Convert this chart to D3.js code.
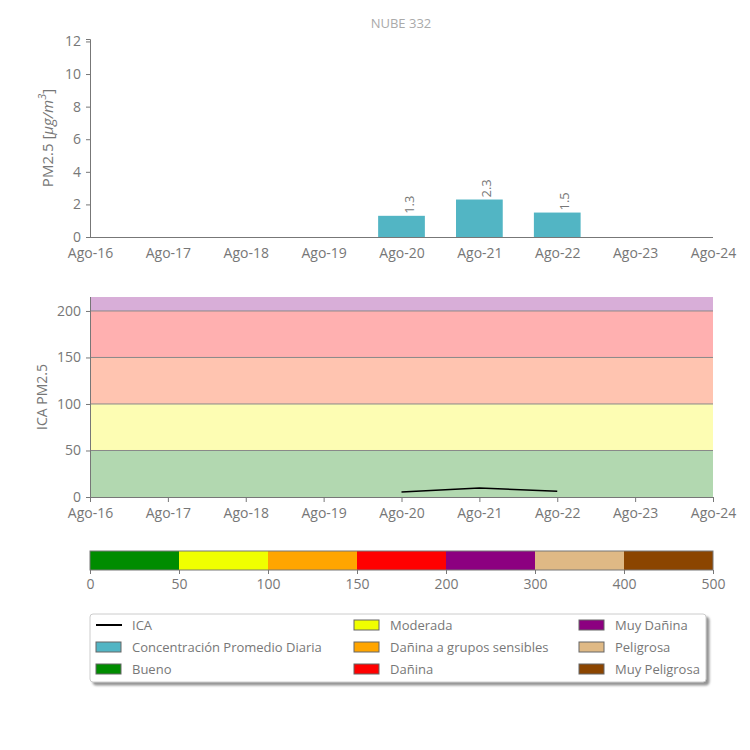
<!DOCTYPE html>
<html>
<head>
<meta charset="utf-8">
<script src="https://cdn.jsdelivr.net/npm/d3@7"></script>
<style>
  body { margin: 0; background: #fff; }
  text { font-family: "Open Sans", Lato, sans-serif; fill: #777; }
</style>
</head>
<body>
<div id="chart"></div>
<script>
// Data
var days = ["Ago-16", "Ago-17", "Ago-18", "Ago-19", "Ago-20", "Ago-21", "Ago-22", "Ago-23", "Ago-24"];
var measuredDays = ["Ago-20", "Ago-21", "Ago-22"];
var pm25 = [1.3, 2.3, 1.5];      // concentracion promedio diaria
var ica = [5.4, 9.6, 6.3];       // indice ICA
var pmTicks = [0, 2, 4, 6, 8, 10, 12];
var icaTicks = [0, 50, 100, 150, 200];

// ICA categories
var catLimits = [0, 50, 100, 150, 200, 300, 400, 500];
var catNames = ["Bueno", "Moderada", "Dañina a grupos sensibles", "Dañina", "Muy Dañina", "Peligrosa", "Muy Peligrosa"];
var catColors = ["#008c00", "#f0ff00", "#ffa500", "#ff0000", "#8c0080", "#dfb985", "#8b4500"];
var bandColors = ["#b2d8b0", "#fdfdb3", "#ffc4b0", "#ffb0b0", "#d8aed8", "#ecdcc6", "#d0b8a4"];

var barColor = "#52b5c4";
var axisColor = "#777";

var svg = d3.select("#chart")
  .append("svg")
  .attr("width", 750)
  .attr("height", 750);

var x = d3.scalePoint()
  .domain(days)
  .range([90, 713]);
var step = x.step();

// ---------- top chart: PM2.5 bars ----------
var y1 = d3.scaleLinear()
  .domain([0, 12.15])
  .range([237, 39]);

svg.append("text")
  .attr("x", 401)
  .attr("y", 28)
  .style("text-anchor", "middle")
  .style("font-size", "13px")
  .style("fill", "#aaa")
  .text("NUBE 332");

svg.append("g")
  .selectAll("rect")
  .data(pm25)
  .enter()
  .append("rect")
    .attr("x", function(d, i) { return x(measuredDays[i]) - step * 0.3; })
    .attr("width", step * 0.6)
    .attr("y", function(d) { return y1(d); })
    .attr("height", function(d) { return y1(0) - y1(d); })
    .attr("fill", barColor);

svg.append("g")
  .selectAll("text")
  .data(pm25)
  .enter()
  .append("text")
    .attr("transform", function(d, i) {
      return "translate(" + (x(measuredDays[i]) + 12) + "," + (y1(d) - 2) + ") rotate(-90)";
    })
    .style("font-size", "13px")
    .text(function(d) { return d.toFixed(1); });

var yAxis1 = svg.append("g")
  .attr("transform", "translate(90,0)")
  .call(d3.axisLeft(y1).tickValues(pmTicks).tickSize(4).tickPadding(5));

var xAxis1 = svg.append("g")
  .attr("transform", "translate(0,237)")
  .call(d3.axisBottom(x).tickSize(0).tickPadding(11));

// y label with superscript
var ylab1 = svg.append("text")
  .attr("transform", "translate(53,138) rotate(-90)")
  .style("text-anchor", "middle")
  .style("font-size", "15px");
ylab1.append("tspan").text("PM2.5 [");
ylab1.append("tspan").style("font-style", "italic").text("μg/m");
ylab1.append("tspan").attr("dy", -7).style("font-size", "11px").style("font-style", "italic").text("3");
ylab1.append("tspan").attr("dy", 7).text("]");

// ---------- bottom chart: ICA ----------
var y2 = d3.scaleLinear()
  .domain([0, 215])
  .range([497, 297]);

svg.append("g")
  .selectAll("rect")
  .data(catLimits.slice(0, 5))
  .enter()
  .append("rect")
    .attr("x", 90)
    .attr("width", 713 - 90)
    .attr("y", function(d, i) { return y2(Math.min(catLimits[i + 1], 215)); })
    .attr("height", function(d, i) { return y2(d) - y2(Math.min(catLimits[i + 1], 215)); })
    .attr("fill", function(d, i) { return bandColors[i]; });

svg.append("g")
  .selectAll("line")
  .data(icaTicks.slice(1))
  .enter()
  .append("line")
    .attr("x1", 90)
    .attr("x2", 713)
    .attr("y1", function(d) { return y2(d); })
    .attr("y2", function(d) { return y2(d); })
    .attr("stroke", "#888")
    .attr("stroke-width", 1);

var icaPoints = ica.map(function(v, i) { return {day: measuredDays[i], v: v}; });

svg.append("path")
  .datum(icaPoints)
  .attr("d", d3.line()
    .x(function(d) { return x(d.day); })
    .y(function(d) { return y2(d.v); }))
  .attr("stroke", "#000")
  .style("stroke-width", 1.5)
  .style("fill", "none");

var yAxis2 = svg.append("g")
  .attr("transform", "translate(90,0)")
  .call(d3.axisLeft(y2).tickValues(icaTicks).tickSize(4).tickPadding(5));

var xAxis2 = svg.append("g")
  .attr("transform", "translate(0,497)")
  .call(d3.axisBottom(x).tickSize(5).tickPadding(6));

svg.append("text")
  .attr("transform", "translate(47,397) rotate(-90)")
  .style("text-anchor", "middle")
  .style("font-size", "14px")
  .text("ICA PM2.5");

[yAxis1, xAxis1, yAxis2, xAxis2].forEach(function(a) {
  a.selectAll("path, line").attr("stroke", axisColor);
  a.selectAll("text").style("font-size", "14px").attr("fill", axisColor);
});
xAxis1.select(".domain").attr("d", "M90,0.5H713");
yAxis2.select(".domain").attr("d", "M0.5,497V297");
xAxis2.select(".domain").attr("d", "M90,0.5H713");

// ---------- colour bar ----------
var xc = d3.scalePoint()
  .domain(catLimits)
  .range([90, 713]);

svg.append("g")
  .selectAll("rect")
  .data(catColors)
  .enter()
  .append("rect")
    .attr("x", function(d, i) { return xc(catLimits[i]); })
    .attr("width", function(d, i) { return xc(catLimits[i + 1]) - xc(catLimits[i]); })
    .attr("y", 551)
    .attr("height", 19)
    .attr("fill", function(d) { return d; });

svg.append("rect")
  .attr("x", 90)
  .attr("y", 551)
  .attr("width", 713 - 90)
  .attr("height", 19)
  .attr("fill", "none")
  .attr("stroke", axisColor);

var cAxis = svg.append("g")
  .attr("transform", "translate(0,570)")
  .call(d3.axisBottom(xc).tickSize(4).tickPadding(5));
cAxis.select(".domain").remove();
cAxis.selectAll("line").attr("stroke", axisColor);
cAxis.selectAll("text").style("font-size", "14px").attr("fill", axisColor);

// ---------- legend ----------
var defs = svg.append("defs");
var shadow = defs.append("filter").attr("id", "shadow")
  .attr("x", "-5%").attr("y", "-5%").attr("width", "115%").attr("height", "130%");
shadow.append("feDropShadow")
  .attr("dx", 3).attr("dy", 3).attr("stdDeviation", 0.8)
  .attr("flood-color", "#888").attr("flood-opacity", 0.9);

svg.append("rect")
  .attr("x", 90)
  .attr("y", 614)
  .attr("width", 616)
  .attr("height", 68)
  .attr("rx", 3)
  .attr("fill", "#fff")
  .attr("stroke", "#ccc")
  .attr("filter", "url(#shadow)");

var legendItems = [{name: "ICA", line: true}, {name: "Concentración Promedio Diaria", color: barColor}]
  .concat(catNames.map(function(n, i) { return {name: n, color: catColors[i]}; }));
var colX = [95, 353, 578];
var rowY = [625, 647, 669];

var leg = svg.append("g")
  .selectAll("g")
  .data(legendItems)
  .enter()
  .append("g")
    .attr("transform", function(d, i) {
      return "translate(" + colX[Math.floor(i / 3)] + "," + rowY[i % 3] + ")";
    });

leg.filter(function(d) { return d.line; })
  .append("line")
    .attr("x1", 1).attr("x2", 27)
    .attr("y1", 0).attr("y2", 0)
    .attr("stroke", "#000")
    .style("stroke-width", 2);

leg.filter(function(d) { return !d.line; })
  .append("rect")
    .attr("x", 1).attr("y", -5)
    .attr("width", 25).attr("height", 10)
    .attr("fill", function(d) { return d.color; })
    .attr("stroke", "#666");

leg.append("text")
  .attr("x", 37)
  .attr("y", 5)
  .style("font-size", "13px")
  .text(function(d) { return d.name; });
</script>
</body>
</html>
